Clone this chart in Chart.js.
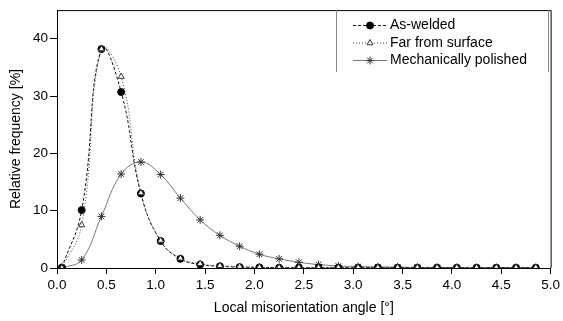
<!DOCTYPE html>
<html>
<head>
<meta charset="utf-8">
<script src="https://cdn.jsdelivr.net/npm/chart.js@4.4.1/dist/chart.umd.min.js"></script>
<style>
  html, body { margin: 0; padding: 0; background: #fff; }
  #wrap { width: 563px; height: 321px; }
</style>
</head>
<body>
<div id="wrap"><canvas id="misoChart"></canvas></div>
<script>
// Bin centres of the local misorientation angle [deg]
const angles = [0.05, 0.25, 0.45, 0.65, 0.85, 1.05, 1.25, 1.45, 1.65, 1.85, 2.05, 2.25, 2.45,
                2.65, 2.85, 3.05, 3.25, 3.45, 3.65, 3.85, 4.05, 4.25, 4.45, 4.65, 4.85];

// Relative frequency [%]
const asWelded = [0.1, 10.1, 38.2, 30.7, 13.0, 4.7, 1.6, 0.6, 0.3, 0.15, 0.1, 0.05, 0.05,
                  0.05, 0.05, 0.05, 0.05, 0.05, 0.05, 0.05, 0.05, 0.05, 0.05, 0.05, 0.05];
const farFromSurface = [0.0, 7.5, 38.2, 33.4, 13.1, 4.8, 1.7, 0.75, 0.4, 0.25, 0.15, 0.1, 0.1,
                        0.1, 0.1, 0.1, 0.1, 0.1, 0.1, 0.1, 0.1, 0.1, 0.1, 0.1, 0.1];
const polished = [0.0, 1.4, 9.0, 16.4, 18.5, 16.3, 12.2, 8.4, 5.7, 3.8, 2.4, 1.6, 1.0,
                  0.6, 0.35, 0.25, 0.2, 0.15, 0.1, 0.1, 0.05, 0.05, 0.05, 0.05, 0.05];

const xTicks = [0, 0.5, 1, 1.5, 2, 2.5, 3, 3.5, 4, 4.5, 5];
const yTicks = [0, 10, 20, 30, 40];

const FONT = "'Liberation Sans', Arial, sans-serif";

function pts(ys) {
    return angles.map((x, i) => ({ x: x, y: ys[i] }));
}

// frame round the plot area + the legend box drawn by hand
const framePlugin = {
    id: "frame",
    afterDatasetsDraw(chart) {
        const { ctx, chartArea: a } = chart;
        ctx.save();
        ctx.strokeStyle = "#000";
        ctx.lineWidth = 1;
        ctx.beginPath();
        ctx.moveTo(a.left, a.top + 0.5);
        ctx.lineTo(a.right + 0.5, a.top + 0.5);
        ctx.lineTo(a.right + 0.5, a.bottom);
        ctx.stroke();

        // legend box (only the side edges show below the frame)
        ctx.strokeStyle = "#888";
        ctx.beginPath();
        ctx.moveTo(336.5, a.top);
        ctx.lineTo(336.5, 72);
        ctx.moveTo(548.5, a.top);
        ctx.lineTo(548.5, 72);
        ctx.stroke();

        const rows = [25, 42.5, 60];
        ctx.font = "14px " + FONT;
        ctx.textBaseline = "middle";
        const byLabel = {};
        chart.data.datasets.forEach(ds => { byLabel[ds.label] = ds; });
        ["As-welded", "Far from surface", "Mechanically polished"].forEach((name, i) => {
            const ds = byLabel[name];
            const y = rows[i] + 0.5;
            ctx.save();
            ctx.strokeStyle = ds.borderColor;
            ctx.lineWidth = ds.borderWidth;
            ctx.setLineDash(ds.borderDash || []);
            ctx.beginPath();
            ctx.moveTo(353, y);
            ctx.lineTo(387, y);
            ctx.stroke();
            ctx.restore();
            ctx.save();
            ctx.fillStyle = ds.pointBackgroundColor;
            ctx.strokeStyle = ds.pointBorderColor;
            ctx.lineWidth = 1;
            Chart.helpers.drawPoint(ctx, { pointStyle: ds.pointStyle, radius: ds.pointRadius, borderWidth: 1 }, 370, y);
            ctx.restore();
            ctx.fillStyle = "#000";
            ctx.fillText(ds.label, 390, y);
        });
        ctx.restore();
    }
};

new Chart(document.getElementById("misoChart"), {
    type: "scatter",
    data: {
        datasets: [{
            label: "Far from surface",
            data: pts(farFromSurface),
            order: 0,
            showLine: true,
            tension: 0.45,
            borderColor: "#444",
            borderWidth: 1,
            borderDash: [1, 2],
            pointStyle: "triangle",
            pointRadius: 3.5,
            pointBackgroundColor: "#fff",
            pointBorderColor: "#333"
        }, {
            label: "As-welded",
            data: pts(asWelded),
            order: 1,
            showLine: true,
            tension: 0.45,
            borderColor: "#111",
            borderWidth: 1,
            borderDash: [3, 2],
            pointStyle: "circle",
            pointRadius: 3.5,
            pointBackgroundColor: "#000",
            pointBorderColor: "#000"
        }, {
            label: "Mechanically polished",
            data: pts(polished),
            order: 2,
            showLine: true,
            tension: 0.4,
            borderColor: "#777",
            borderWidth: 1,
            pointStyle: "star",
            pointRadius: 4,
            pointBackgroundColor: "#333",
            pointBorderColor: "#333"
        }]
    },
    options: {
        responsive: true,
        maintainAspectRatio: false,
        animation: false,
        layout: { padding: { top: 7, right: 9, left: 0, bottom: 0 } },
        plugins: {
            legend: { display: false },
            tooltip: { enabled: false }
        },
        scales: {
            x: {
                type: "linear",
                min: 0,
                max: 5,
                afterFit: (s) => { s.height = 53; },
                afterBuildTicks: (s) => { s.ticks = xTicks.map(v => ({ value: v })); },
                ticks: {
                    color: "#000",
                    font: { family: FONT, size: 13.5 },
                    padding: 3,
                    maxRotation: 0,
                    callback: (v) => v.toFixed(1)
                },
                grid: { drawOnChartArea: false, drawTicks: true, tickLength: 6, color: "#000" },
                border: { display: true, color: "#000", width: 1 },
                title: {
                    display: true,
                    text: "Local misorientation angle [°]",
                    color: "#000",
                    font: { family: FONT, size: 14 },
                    padding: { top: 0, bottom: 4 }
                }
            },
            y: {
                min: 0,
                max: 45,
                afterFit: (s) => { s.width = 57; },
                afterBuildTicks: (s) => { s.ticks = yTicks.map(v => ({ value: v })); },
                ticks: {
                    color: "#000",
                    font: { family: FONT, size: 13.5 },
                    padding: 2
                },
                grid: { drawOnChartArea: false, drawTicks: true, tickLength: 7, color: "#000" },
                border: { display: true, color: "#000", width: 1 },
                title: {
                    display: true,
                    text: "Relative frequency [%]",
                    color: "#000",
                    font: { family: FONT, size: 14 },
                    padding: { top: 8, bottom: 0 }
                }
            }
        }
    },
    plugins: [framePlugin]
});
</script>
</body>
</html>
